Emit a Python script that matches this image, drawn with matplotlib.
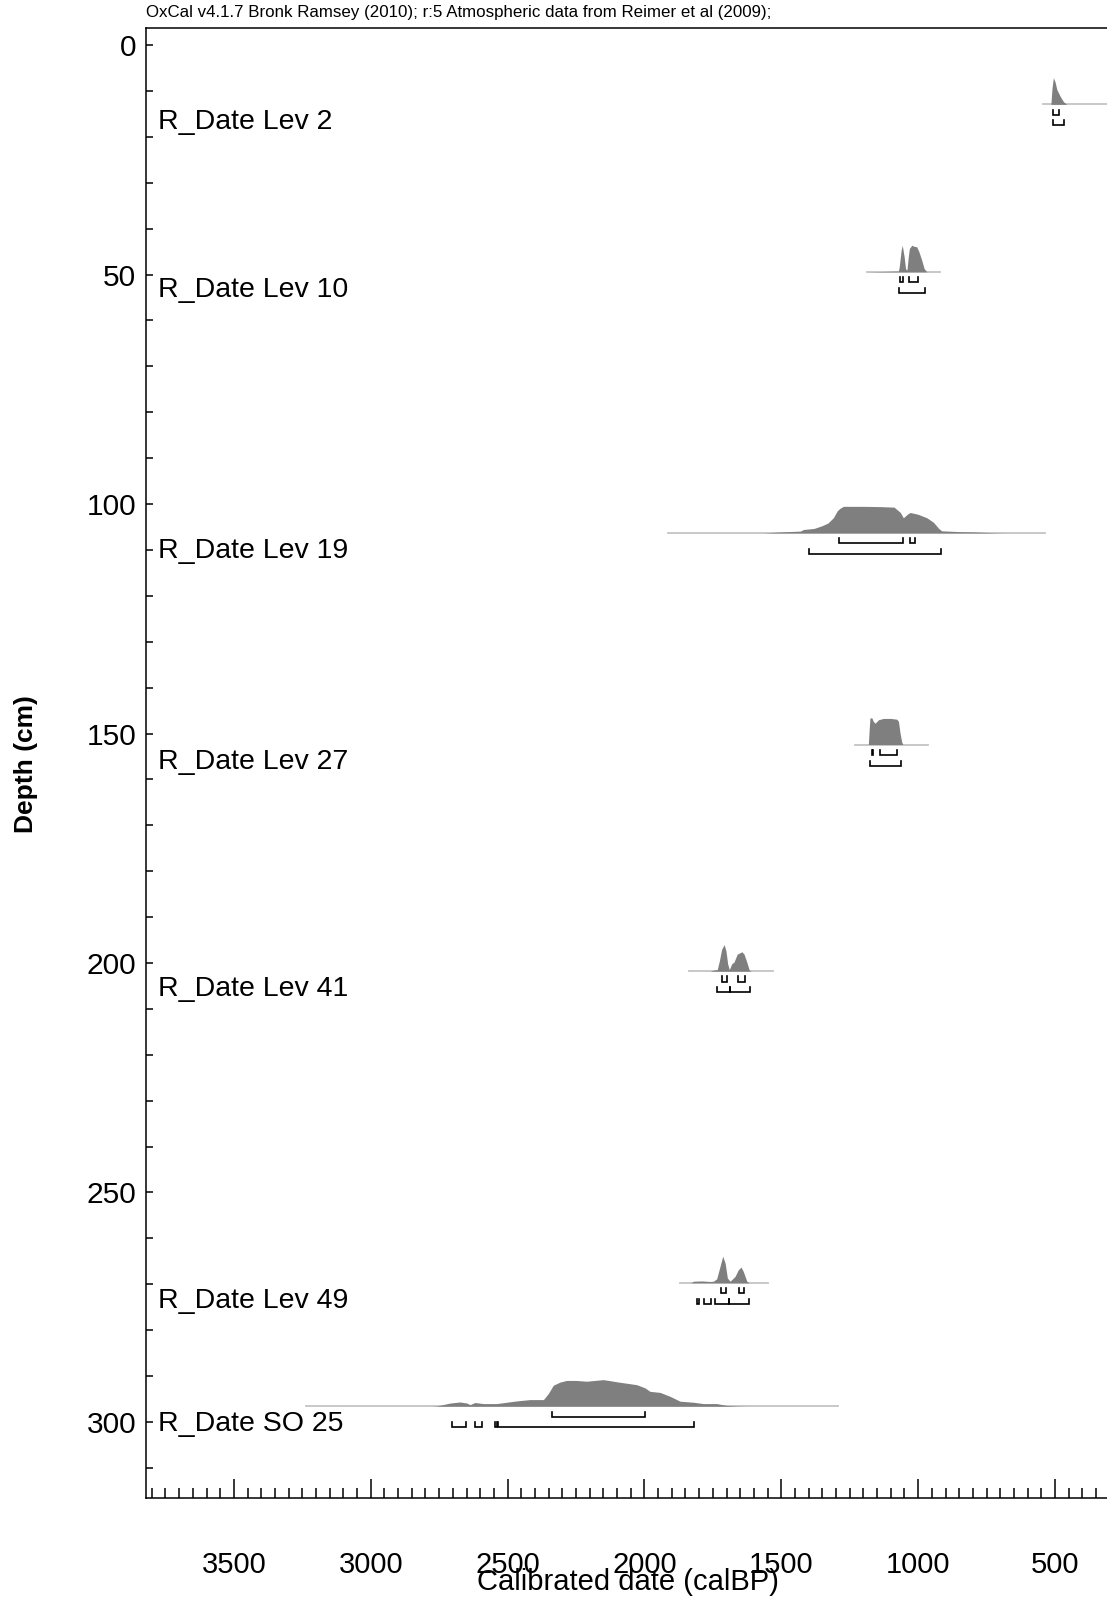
import matplotlib
matplotlib.use("Agg")
import matplotlib.pyplot as plt
from matplotlib import font_manager
from matplotlib.ticker import MultipleLocator
from matplotlib.transforms import blended_transform_factory

# sample names and depths (cm) of each calibrated date
names = ['R_Date Lev 2', 'R_Date Lev 10', 'R_Date Lev 19', 'R_Date Lev 27',
         'R_Date Lev 41', 'R_Date Lev 49', 'R_Date SO 25']
depths = [12.9, 49.4, 106.3, 152.4, 201.8, 269.7, 296.6]

# extent of the grey line under each distribution (calBP)
spans = [(545, 250), (1188, 920), (1913, 536), (1230, 963),
         (1838, 1530), (1870, 1548), (3235, 1293)]

# probability distributions (calBP, relative probability)
lev2_age = [515, 511, 506, 500, 493, 481, 469, 457]
lev2_p = [0, 0.6, 1.0, 0.85, 0.55, 0.3, 0.1, 0]

lev10_age = [1188, 1150, 1078, 1072, 1069, 1062, 1058, 1051, 1046, 1041,
             1036, 1032, 1023, 1015, 1005, 997, 987, 978, 968]
lev10_p = [0, 0.01, 0.03, 0.03, 0.19, 0.82, 1.0, 0.56, 0.12, 0.06,
           0.56, 0.88, 1.0, 0.96, 0.94, 0.75, 0.44, 0.12, 0]

lev19_age = [1913, 1566, 1500, 1430, 1419, 1380, 1352, 1330, 1310, 1295,
             1285, 1273, 1200, 1140, 1088, 1065, 1054, 1040, 1029, 1000,
             968, 944, 925, 914, 850, 798, 725, 680]
lev19_p = [0, 0, 0.04, 0.07, 0.13, 0.17, 0.27, 0.37, 0.57, 0.84,
           0.93, 1.0, 1.0, 0.99, 0.97, 0.77, 0.57, 0.7, 0.77, 0.7,
           0.57, 0.4, 0.17, 0.08, 0.05, 0.04, 0.01, 0]

lev27_age = [1230, 1182, 1178, 1176, 1169, 1164, 1157, 1145, 1127, 1100,
             1078, 1072, 1066, 1060, 1056, 963]
lev27_p = [0, 0, 0.7, 1.0, 1.0, 0.87, 0.8, 0.93, 0.98, 0.98,
           0.95, 0.87, 0.42, 0.1, 0, 0]

lev41_age = [1838, 1760, 1748, 1734, 1726, 1718, 1709, 1702, 1696, 1690,
             1681, 1673, 1661, 1644, 1636, 1626, 1617, 1610, 1530]
lev41_p = [0, 0, 0.04, 0.06, 0.4, 0.82, 1.0, 0.76, 0.28, 0.06,
           0.28, 0.34, 0.64, 0.73, 0.64, 0.34, 0.04, 0, 0]

lev49_age = [1870, 1830, 1821, 1790, 1760, 1748, 1736, 1724, 1714, 1705,
             1697, 1687, 1669, 1657, 1647, 1639, 1626, 1618, 1548]
lev49_p = [0, 0, 0.06, 0.07, 0.05, 0.06, 0.15, 0.61, 1.0, 0.73,
           0.18, 0.06, 0.24, 0.49, 0.59, 0.43, 0.06, 0, 0]

so25_age = [3235, 2780, 2759, 2710, 2674, 2649, 2637, 2619, 2589, 2540,
            2467, 2418, 2369, 2351, 2333, 2308, 2284, 2250, 2211, 2150,
            2089, 2028, 1998, 1980, 1943, 1906, 1870, 1821, 1785, 1736,
            1699, 1663, 1626, 1293]
so25_p = [0, 0, 0.01, 0.12, 0.16, 0.12, 0.06, 0.14, 0.1, 0.1,
          0.2, 0.25, 0.25, 0.48, 0.79, 0.91, 0.97, 0.97, 0.94, 1.0,
          0.9, 0.81, 0.69, 0.56, 0.52, 0.37, 0.19, 0.15, 0.1, 0.1,
          0.03, 0.01, 0, 0]

ages = [lev2_age, lev10_age, lev19_age, lev27_age, lev41_age, lev49_age, so25_age]
probs = [lev2_p, lev10_p, lev19_p, lev27_p, lev41_p, lev49_p, so25_p]

# 68.2% and 95.4% ranges (calBP)
ranges68 = [
    [(506, 485)],
    [(1066, 1054), (1032, 999)],
    [(1288, 1056), (1029, 1011)],
    [(1169, 1164), (1139, 1078)],
    [(1718, 1699), (1657, 1632)],
    [(1720, 1703), (1654, 1636)],
    [(2339, 1998)],
]
ranges95 = [
    [(506, 467)],
    [(1069, 975)],
    [(1397, 917)],
    [(1176, 1062)],
    [(1734, 1689), (1687, 1614)],
    [(1809, 1802), (1781, 1758), (1742, 1691), (1691, 1617)],
    [(2702, 2653), (2619, 2595), (2546, 2538), (2535, 1819)],
]

xticks = [3500, 3000, 2500, 2000, 1500, 1000, 500]
yticks = [0, 50, 100, 150, 200, 250, 300]

# fonts
installed = {f.name for f in font_manager.fontManager.ttflist}
narrow = 'Liberation Sans Narrow' if 'Liberation Sans Narrow' in installed else 'Liberation Sans'
plt.rcParams['font.family'] = ['Liberation Sans', 'DejaVu Sans']

H = 5.8        # peak height in depth units
row68, row95, tick = 2.25, 4.6, 1.1

fig = plt.figure(figsize=(11.07, 16.02), dpi=100)
ax = fig.add_axes([0.1319, 0.0649, 0.8681, 0.9178])

for d, (s0, s1), a, p, r68, r95 in zip(depths, spans, ages, probs, ranges68, ranges95):
    ax.plot([s0, s1], [d, d], color='#c4c4c4', lw=1.3, zorder=1)
    top = [d - v * H for v in p]
    ax.fill_between(a, top, d, color='#7f7f7f', lw=0, zorder=2)
    for row, rr in ((row68, r68), (row95, r95)):
        y = d + row
        for a0, a1 in rr:
            ax.plot([a0, a0, a1, a1], [y - tick, y, y, y - tick],
                    color='black', lw=1.2, solid_joinstyle='miter', zorder=3)

trans = blended_transform_factory(ax.transAxes, ax.transData)
for n, d in zip(names, depths):
    ax.text(0.0125, d + 3.9, n, transform=trans, fontsize=20.5,
            ha='left', va='center', color='black')

ax.set_xlim(3821, 310)
ax.set_ylim(316.6, -3.8)
ax.set_xticks(xticks)
ax.set_yticks(yticks)
ax.xaxis.set_minor_locator(MultipleLocator(50))
ax.yaxis.set_minor_locator(MultipleLocator(10))
ax.tick_params(axis='x', which='major', direction='in', length=14, width=1.1, pad=38)
ax.tick_params(axis='x', which='minor', direction='in', length=7, width=1.1)
ax.tick_params(axis='y', which='both', direction='in', length=5, width=1.1, pad=7)
for lab in ax.get_xticklabels():
    lab.set_fontfamily(narrow)
    lab.set_fontsize(21)
for lab in ax.get_yticklabels():
    lab.set_fontfamily(narrow)
    lab.set_fontsize(21.5)
for side in ('left', 'bottom', 'top'):
    ax.spines[side].set_linewidth(1.1)
ax.spines['right'].set_visible(False)

fig.text(628 / 1107, 1 - 1582 / 1602, 'Calibrated date (calBP)', family=narrow,
         fontsize=21, ha='center', va='center')
fig.text(25.5 / 1107, 1 - 764 / 1602, 'Depth (cm)', fontsize=19, fontweight='bold',
         rotation=90, ha='center', va='center')
fig.text(146 / 1107, 1 - 12.5 / 1602,
         'OxCal v4.1.7 Bronk Ramsey (2010); r:5 Atmospheric data from Reimer et al (2009);',
         family=narrow, fontsize=12.2, ha='left', va='center')

fig.savefig('out.png', dpi=100)
